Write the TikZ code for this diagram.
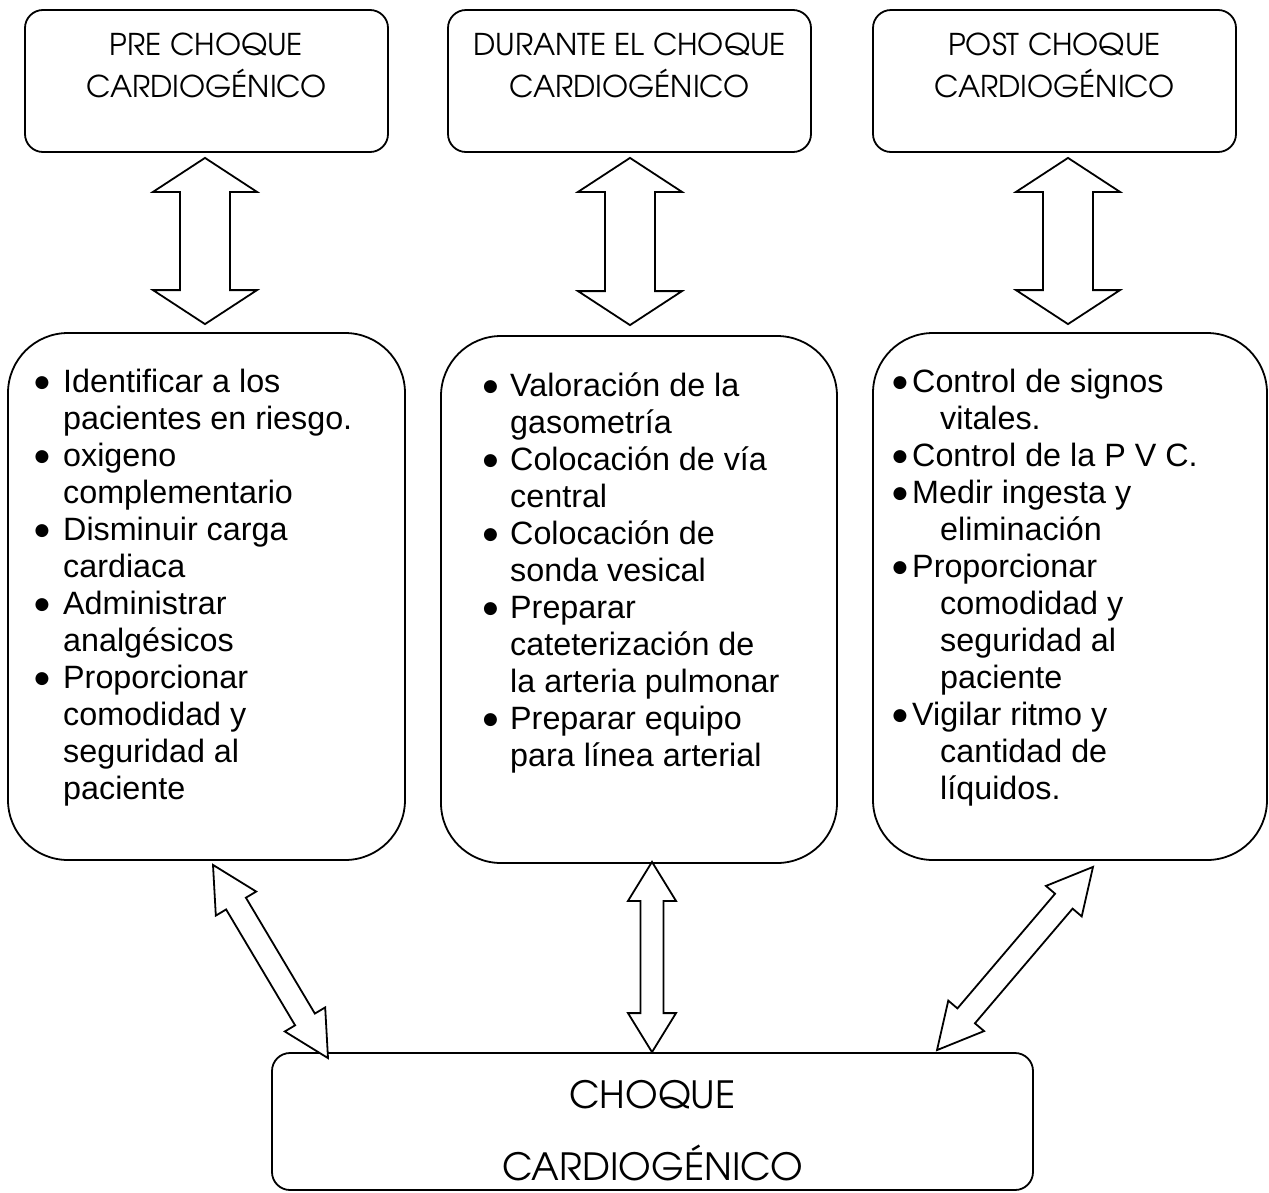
\documentclass[tikz,border=0pt]{standalone}
\usepackage{fontspec}
\setmainfont{Liberation Sans}
\newfontfamily\gothic{TeX Gyre Adventor}
\newfontfamily\djv{DejaVu Sans}
\usetikzlibrary{calc}
\newcommand\bstrut[1]{\rule{0pt}{#1}}
\newcommand\bl[1]{\makebox[#1][l]{\raisebox{4.6pt}{\djv\fontsize{17}{17}\selectfont ●}}}
\newcommand\ind[1]{\hspace*{#1}}
\newcommand\dblarrow[5]{%
  \coordinate (da) at (#1);
  \coordinate (db) at (#2);
  \coordinate (dh1) at ($(da)!#5!(db)$);
  \coordinate (dh2) at ($(db)!#5!(da)$);
  \draw[blk] (da) -- ($(dh1)!#4!90:(db)$) -- ($(dh1)!#3!90:(db)$)
    -- ($(dh2)!#3!-90:(da)$) -- ($(dh2)!#4!-90:(da)$) -- (db)
    -- ($(dh2)!#4!90:(da)$) -- ($(dh2)!#3!90:(da)$)
    -- ($(dh1)!#3!-90:(db)$) -- ($(dh1)!#4!-90:(db)$) -- cycle;}
\tikzset{
  box/.style={draw, line width=1.8pt, rounded corners=18pt, inner sep=0pt},
  bigbox/.style={box, rounded corners=60pt},
  head/.style={font=\gothic\fontsize{30}{42}\selectfont, align=center, anchor=north, inner sep=0pt},
  bighead/.style={font=\gothic\fontsize{37.5}{72}\selectfont, align=center, anchor=north, inner sep=0pt},
  list/.style={font=\fontsize{32.3}{37}\selectfont, align=left, anchor=north west, inner sep=0pt},
  blk/.style={draw, line width=1.8pt, fill=white, line join=miter}
}
\begin{document}
\begin{tikzpicture}[x=1pt,y=-1pt]
\useasboundingbox[fill=white] (0,0) rectangle (1269,1192);
% top boxes
\node[box, minimum width=363pt, minimum height=142pt] (t1) at (206.5,81) {};
\node[box, minimum width=363pt, minimum height=142pt] (t2) at (629.5,81) {};
\node[box, minimum width=363pt, minimum height=142pt] (t3) at (1054.5,81) {};
\node[head] (h1) at (206.5,25) {\bstrut{30pt}PRE CHOQUE\\CARDIOGÉNICO};
\node[head] (h2) at (629.5,25) {\bstrut{30pt}DURANTE EL CHOQUE\\CARDIOGÉNICO};
\node[head] (h3) at (1054.5,25) {\bstrut{30pt}POST CHOQUE\\CARDIOGÉNICO};
% middle boxes
\node[bigbox, minimum width=397pt, minimum height=527pt] (m1) at (206.5,596.5) {};
\node[bigbox, minimum width=396pt, minimum height=527pt] (m2) at (639,599.5) {};
\node[bigbox, minimum width=394pt, minimum height=527pt] (m3) at (1070,596.5) {};
\node[list] (l1) at (34.5,362) {\bstrut{30pt}\bl{28.5pt}Identificar a los\\
\ind{28.5pt}pacientes en riesgo.\\
\bl{28.5pt}oxigeno\\
\ind{28.5pt}complementario\\
\bl{28.5pt}Disminuir carga\\
\ind{28.5pt}cardiaca\\
\bl{28.5pt}Administrar\\
\ind{28.5pt}analgésicos\\
\bl{28.5pt}Proporcionar\\
\ind{28.5pt}comodidad y\\
\ind{28.5pt}seguridad al\\
\ind{28.5pt}paciente};
\node[list] (l2) at (483,366) {\bstrut{30pt}\bl{27pt}Valoración de la\\
\ind{27pt}gasometría\\
\bl{27pt}Colocación de vía\\
\ind{27pt}central\\
\bl{27pt}Colocación de\\
\ind{27pt}sonda vesical\\
\bl{27pt}Preparar\\
\ind{27pt}cateterización de\\
\ind{27pt}la arteria pulmonar\\
\bl{27pt}Preparar equipo\\
\ind{27pt}para línea arterial};
\node[list] (l3) at (892.5,362) {\bstrut{30pt}\bl{19.5pt}Control de signos\\
\ind{47.5pt}vitales.\\
\bl{19.5pt}Control de la P V C.\\
\bl{19.5pt}Medir ingesta y\\
\ind{47.5pt}eliminación\\
\bl{19.5pt}Proporcionar\\
\ind{47.5pt}comodidad y\\
\ind{47.5pt}seguridad al\\
\ind{47.5pt}paciente\\
\bl{19.5pt}Vigilar ritmo y\\
\ind{47.5pt}cantidad de\\
\ind{47.5pt}líquidos.};
% bottom box
\node[box, minimum width=761pt, minimum height=137pt] (b) at (652.5,1121.5) {};
\node[bighead] (bt) at (652.5,1071) {\bstrut{37pt}CHOQUE\\CARDIOGÉNICO};
% block arrows
\dblarrow{[xshift=-1.5pt,yshift=-5pt]t1.south}{[xshift=-1.5pt,yshift=8pt]m1.north}{25pt}{52pt}{34pt}
\dblarrow{[xshift=0.5pt,yshift=-5pt]t2.south}{[xshift=-9pt,yshift=10pt]m2.north}{25pt}{52pt}{34pt}
\dblarrow{[xshift=13.5pt,yshift=-5pt]t3.south}{[xshift=-2pt,yshift=8pt]m3.north}{25pt}{52pt}{34pt}
\dblarrow{[xshift=6.5pt,yshift=-4pt]m1.south}{[xshift=-324.5pt,yshift=-6pt]b.north}{11.5pt}{23.5pt}{45pt}
\dblarrow{[xshift=13pt,yshift=2pt]m2.south}{[xshift=-0.5pt]b.north}{11.5pt}{24pt}{39pt}
\dblarrow{[xshift=23pt,yshift=-6pt]m3.south}{[xshift=284.5pt,yshift=2pt]b.north}{11.5pt}{23.5pt}{45pt}
\end{tikzpicture}
\end{document}
